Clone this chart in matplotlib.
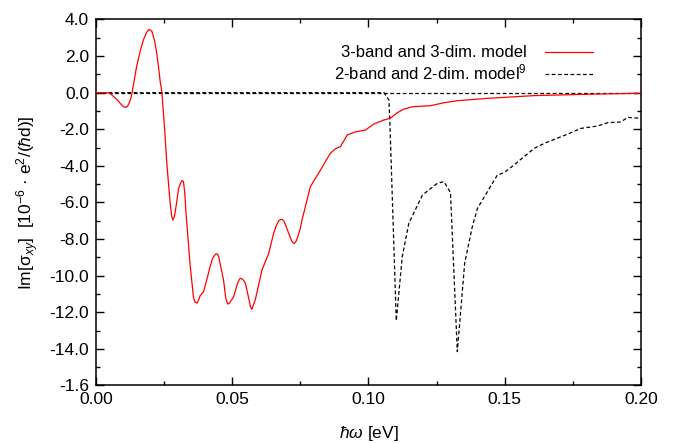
import numpy as np
import matplotlib
matplotlib.use('Agg')
import matplotlib.pyplot as plt
from matplotlib.ticker import MultipleLocator

plt.rcParams['font.family'] = ['Liberation Sans', 'DejaVu Sans']
plt.rcParams['mathtext.fontset'] = 'custom'
plt.rcParams['mathtext.rm'] = 'Liberation Sans'
plt.rcParams['mathtext.it'] = 'Liberation Sans:italic'

# 3-band and 3-dim. model (red)
red_x = [0.0, 0.0039, 0.0051, 0.0076, 0.0094, 0.0103, 0.0109, 0.0116, 0.0122, 0.0128, 0.0133,
         0.0140, 0.0149, 0.0162, 0.0174, 0.0186, 0.0195, 0.0205, 0.0215, 0.0223, 0.0230, 0.0235, 0.0242,
         0.0252, 0.0260, 0.0272, 0.0278, 0.0282, 0.0288, 0.0295, 0.0303, 0.0310, 0.0316, 0.0321, 0.0326, 0.0330,
         0.0346, 0.0358, 0.0364, 0.0370, 0.0376, 0.0382, 0.0395, 0.0407, 0.0419, 0.0428, 0.0435, 0.0441, 0.0446,
         0.0451, 0.0455, 0.0468, 0.0476, 0.0483, 0.0490, 0.0505, 0.0520, 0.0527, 0.0532, 0.0540, 0.0548,
         0.0560, 0.0567, 0.0572, 0.0578, 0.0585, 0.0609, 0.0634, 0.0652, 0.0662, 0.0670, 0.0677, 0.0683,
         0.0689, 0.0695, 0.0707, 0.0718, 0.0724, 0.0729, 0.0735, 0.0740, 0.0750, 0.0756, 0.0787,
         0.0825, 0.0860, 0.0880, 0.0897, 0.0922, 0.0950, 0.0989, 0.1020, 0.1057, 0.1080,
         0.1106, 0.1130, 0.1160, 0.1228, 0.1277, 0.1326, 0.1437, 0.1607, 0.1790, 0.2000]
red_y = [0.0, 0.0, -0.03, -0.36, -0.67, -0.78, -0.80, -0.74, -0.55, -0.30, 0.05,
         0.65, 1.42, 2.25, 2.88, 3.30, 3.46, 3.36, 2.85, 2.15, 1.35, 0.69, 0.0,
         -2.0, -3.86, -6.0, -6.75, -6.96, -6.75, -6.1, -5.25, -4.95, -4.80, -4.86, -5.5, -6.5,
         -9.5, -11.2, -11.45, -11.5, -11.35, -11.1, -10.87, -10.2, -9.5, -9.05, -8.90, -8.80, -8.82,
         -9.0, -9.3, -10.23, -11.2, -11.55, -11.5, -11.15, -10.4, -10.18, -10.14, -10.22, -10.4,
         -11.2, -11.7, -11.84, -11.6, -11.3, -9.69, -8.78, -7.68, -7.25, -7.02, -6.93, -6.92,
         -7.0, -7.2, -7.68, -8.1, -8.22, -8.23, -8.1, -7.9, -7.41, -6.96, -5.13,
         -4.2, -3.31, -3.05, -2.95, -2.31, -2.15, -2.04, -1.71, -1.49, -1.40,
         -1.09, -0.90, -0.77, -0.71, -0.55, -0.44, -0.31, -0.16, -0.09, -0.03]

# 2-band and 2-dim. model (black dashed)
blk_x = [0.0, 0.1057, 0.1075, 0.1078, 0.1087, 0.1102, 0.1124, 0.1148, 0.1198,
         0.1253, 0.1277, 0.1301, 0.1326, 0.1353, 0.1381, 0.1400, 0.1473,
         0.1498, 0.1534, 0.1608, 0.1645, 0.1730, 0.1780, 0.1841, 0.1878,
         0.1926, 0.1951, 0.2000]
blk_y = [0.0, 0.0, -0.4, -1.4, -5.5, -12.46, -8.96, -7.14, -5.59,
         -4.95, -4.86, -5.46, -14.15, -9.32, -7.32, -6.32, -4.5,
         -4.37, -3.95, -3.04, -2.77, -2.27, -1.95, -1.82, -1.64,
         -1.60, -1.35, -1.40]

yticks = [4, 2, 0, -2, -4, -6, -8, -10, -12, -14, -16]
ytick_labels = ['4.0', '2.0', '0.0', '-2.0', '-4.0', '-6.0', '-8.0', '-10.0',
                '-12.0', '-14.0', '-1.6']
xticks = [0.0, 0.05, 0.10, 0.15, 0.20]
xtick_labels = ['0.00', '0.05', '0.10', '0.15', '0.20']

fig = plt.figure(figsize=(6.74, 4.44), dpi=100)
ax = fig.add_axes([0.1424, 0.1318, 0.8086, 0.8243])

ax.axhline(0, color='black', lw=0.9, ls=(0, (3, 2)), zorder=1)
ax.plot(red_x, red_y, color='#ff0000', lw=0.9, label='3-band and 3-dim. model', zorder=3)
ax.plot(blk_x, blk_y, color='black', lw=0.9, ls=(0, (3, 2)),
        label='2-band and 2-dim. model$^{9}$', zorder=2)

ax.set_xlim(0, 0.2)
ax.set_ylim(-16, 4)
ax.set_xticks(xticks)
ax.set_xticklabels(xtick_labels)
ax.set_yticks(yticks)
ax.set_yticklabels(ytick_labels)
ax.xaxis.set_minor_locator(MultipleLocator(0.025))
ax.yaxis.set_minor_locator(MultipleLocator(1))
ax.tick_params(which='both', direction='in', top=True, right=True, labelsize=12.5, width=1.0)
ax.tick_params(which='major', length=5.5, pad=5)
ax.tick_params(which='minor', length=2.8)
for s in ax.spines.values():
    s.set_linewidth(1.1)

ax.set_xlabel(r'$\hbar\omega$ [eV]', fontsize=12.5, labelpad=12)
ax.set_ylabel(r'Im[σ$_{xy}$]  [10$^{-6}$ · e$^{2}$/($\hbar$d)]', fontsize=12.5, labelpad=6)

ax.legend(loc='upper right', bbox_to_anchor=(0.94, 0.97), frameon=False, fontsize=12,
          markerfirst=False, handlelength=2.9, handletextpad=1.1, labelspacing=0.15)

fig.savefig('out.png', dpi=100)
